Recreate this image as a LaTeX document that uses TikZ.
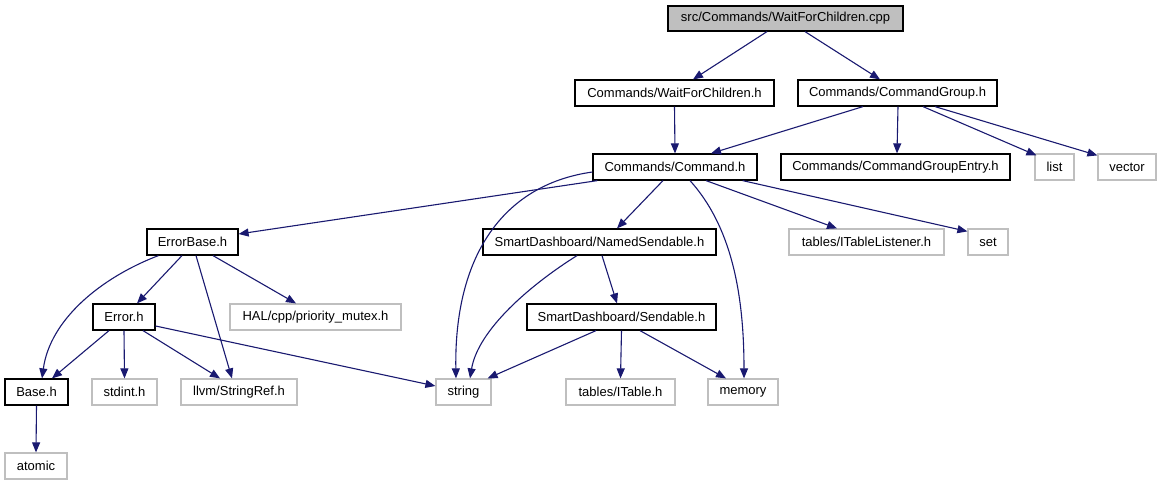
\documentclass[tikz,border=0pt]{standalone}
\usepackage{fontspec}
\setmainfont{Liberation Sans}
\usetikzlibrary{arrows.meta,calc}
\definecolor{edgeblue}{HTML}{191970}
\definecolor{grayline}{HTML}{BFBFBF}
\begin{document}
\begin{tikzpicture}[x=1pt,y=1pt,
  box/.style={draw=black, line width=1.2pt, minimum height=26pt, inner sep=0pt, font=\fontsize{13}{15}\selectfont, anchor=center},
  ext/.style={box, draw=grayline},
  srcbox/.style={box, fill=grayline},
  dep/.style={-{Triangle[length=10pt,width=8pt]}, draw=edgeblue, line width=1.1pt}]
\useasboundingbox (0,0) rectangle (1162,-485);
% row 1
\node[srcbox, minimum width=235pt, minimum height=25pt] (cpp) at (785.5,-18.5) {src/Commands/WaitForChildren.cpp};
% row 2
\node[box, minimum width=199pt] (wfc) at (674.5,-93) {Commands/WaitForChildren.h};
\node[box, minimum width=199pt] (cg) at (897.5,-93) {Commands/CommandGroup.h};
% row 3
\node[box, minimum width=164pt] (cmd) at (675,-167) {Commands/Command.h};
\node[box, minimum width=229pt] (cge) at (895.5,-167) {Commands/CommandGroupEntry.h};
\node[ext, minimum width=39pt] (list) at (1054.5,-167) {list};
\node[ext, minimum width=58pt] (vector) at (1127,-167) {vector};
% row 4
\node[box, minimum width=91pt] (errbase) at (192.5,-242) {ErrorBase.h};
\node[box, minimum width=233pt] (named) at (599.5,-242) {SmartDashboard/NamedSendable.h};
\node[ext, minimum width=155pt] (itl) at (866.5,-242) {tables/ITableListener.h};
\node[ext, minimum width=40pt] (set) at (988,-242) {set};
% row 5
\node[box, minimum width=62pt] (error) at (124,-317) {Error.h};
\node[ext, minimum width=171pt] (hal) at (315.5,-317) {HAL/cpp/priority\_mutex.h};
\node[box, minimum width=189pt] (sendable) at (621.5,-317) {SmartDashboard/Sendable.h};
% row 6
\node[box, minimum width=63pt] (base) at (36.5,-392) {Base.h};
\node[ext, minimum width=65pt] (stdint) at (124.5,-392) {stdint.h};
\node[ext, minimum width=116pt] (stringref) at (239,-392) {llvm/StringRef.h};
\node[ext, minimum width=55pt] (string) at (463.5,-392) {string};
\node[ext, minimum width=109pt] (itable) at (620.5,-392) {tables/ITable.h};
\node[ext, minimum width=70pt] (memory) at (743,-392) {memory};
% row 7
\node[ext, minimum width=62pt] (atomic) at (36,-466) {atomic};

% edges
\draw[dep] ([xshift=-18.5pt]cpp.south) -- ([xshift=18.5pt]wfc.north);
\draw[dep] ([xshift=19.5pt]cpp.south) -- ([xshift=-17.5pt]cg.north);
\draw[dep] (wfc.south) -- (cmd.north);
\draw[dep] ([xshift=-34.5pt]cg.south) -- ([xshift=36pt]cmd.north);
\draw[dep] ([xshift=0.5pt]cg.south) -- ([xshift=1.5pt]cge.north);
\draw[dep] ([xshift=25.5pt]cg.south) -- ([xshift=2pt,yshift=-2pt]list.north west);
\draw[dep] ([xshift=37.5pt]cg.south) -- ([yshift=-2pt]vector.north west);
\draw[dep] ([xshift=5pt]cmd.south west) -- ([yshift=8pt]errbase.east);
\draw[dep] ([yshift=-5pt]cmd.west) .. controls (500,-185) and (454,-260) .. ([xshift=-7.5pt]string.north);
\draw[dep] ([xshift=-12pt]cmd.south) -- ([xshift=17.5pt]named.north);
\draw[dep] ([xshift=15pt]cmd.south) .. controls (730,-225) and (744,-290) .. ([xshift=1pt]memory.north);
\draw[dep] ([xshift=31pt]cmd.south) -- ([xshift=-29.5pt]itl.north);
\draw[dep] ([xshift=-15pt]cmd.south east) -- ([yshift=-3pt]set.north west);
\draw[dep] ([xshift=12pt]errbase.south west) .. controls (100,-278) and (50,-320) .. ([xshift=5.5pt]base.north);
\draw[dep] ([xshift=-10.5pt]errbase.south) -- ([xshift=13pt]error.north);
\draw[dep] ([xshift=3.5pt]errbase.south) -- ([xshift=-7pt]stringref.north);
\draw[dep] ([xshift=20.5pt]errbase.south) -- ([xshift=-19.5pt]hal.north);
\draw[dep] ([xshift=-15pt]error.south) -- ([xshift=15.5pt]base.north);
\draw[dep] (error.south) -- (stdint.north);
\draw[dep] ([xshift=19pt]error.south) -- ([xshift=-19pt]stringref.north);
\draw[dep] ([yshift=-9pt]error.east) -- ([yshift=6pt]string.west);
\draw[dep] ([xshift=-22.5pt]named.south) .. controls (530,-285) and (478,-330) .. ([xshift=6.5pt]string.north);
\draw[dep] ([xshift=2.5pt]named.south) -- ([xshift=-4.5pt]sendable.north);
\draw[dep] ([xshift=-25.5pt]sendable.south) -- ([xshift=-4pt]string.north east);
\draw[dep] (sendable.south) -- (itable.north);
\draw[dep] ([xshift=18.5pt]sendable.south) -- ([xshift=-17pt]memory.north);
\draw[dep] (base.south) -- (atomic.north);
\end{tikzpicture}
\end{document}
